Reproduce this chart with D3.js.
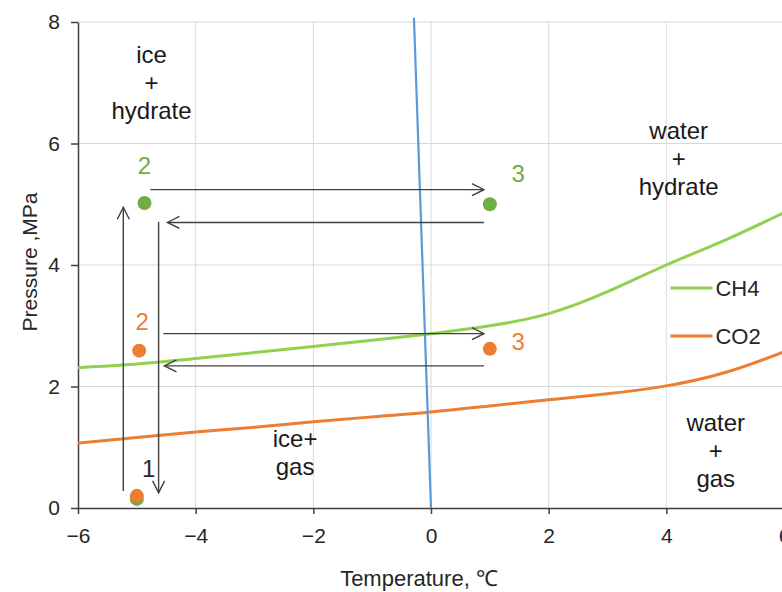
<!DOCTYPE html>
<html>
<head>
<meta charset="utf-8">
<script src="https://cdn.jsdelivr.net/npm/d3@7"></script>
<style>
	body { margin: 0; background: #fff; }
	svg { display: block; font-family: 'Liberation Sans', Arial, sans-serif; }
	.grid line { stroke: #d9d9d9; stroke-width: 1; }
	.axis path, .axis line { stroke: #404040; stroke-width: 1.5; }
	.axis text { fill: #262626; font-size: 21px; }
</style>
</head>
<body>
<div id="chart"></div>
<script>
// temperature grid for the equilibrium curves
const temps = [-6, -5, -4, -3, -2, -1, 0, 1, 2, 3, 4, 5, 6];
const ch4Pressure = [2.31, 2.37, 2.46, 2.56, 2.66, 2.76, 2.87, 3.0, 3.2, 3.56, 4.0, 4.41, 4.86];
const co2Pressure = [1.07, 1.16, 1.25, 1.33, 1.42, 1.5, 1.58, 1.68, 1.78, 1.88, 2.01, 2.23, 2.57];

// ice melting line
const iceLine = [[-0.29, 8.07], [0, 0]];

// experiment points
const ch4Points = [[-5, 0.15], [-4.87, 5.02], [1.0, 5.0]];
const co2Points = [[-5, 0.2], [-4.96, 2.59], [1.0, 2.62]];

// path arrows: [x1, y1, x2, y2]
const arrows = [
	[-5.23, 0.28, -5.23, 4.95],
	[-4.63, 4.71, -4.63, 0.25],
	[-4.77, 5.24, 0.9, 5.24],
	[0.9, 4.7, -4.48, 4.7],
	[-4.55, 2.87, 0.9, 2.87],
	[0.9, 2.34, -4.53, 2.34],
];

// step numbers: [text, x, y, series]
const stepLabels = [
	['2', -4.87, 5.49, 'CH4'],
	['3', 1.48, 5.37, 'CH4'],
	['2', -4.91, 2.93, 'CO2'],
	['3', 1.48, 2.6, 'CO2'],
	['1', -4.8, 0.51, 'none'],
];

// phase regions: [lines, x, y]
const regionLabels = [
	[['ice', '+', 'hydrate'], -4.75, 7.33],
	[['water', '+', 'hydrate'], 4.21, 6.08],
	[['water', '+', 'gas'], 4.84, 1.27],
	[['ice+', 'gas'], -2.31, 1.0],
];

const xTicks = [-6, -4, -2, 0, 2, 4, 6];
const yTicks = [0, 2, 4, 6, 8];

const colors = { CH4: '#92d050', CO2: '#ed7d31', none: '#262626' };
const dotColors = { CH4: '#70ad47', CO2: '#ed7d31' };

const width = 782;
const height = 592;
const margin = { top: 22, right: -2, bottom: 84, left: 78 };
const innerW = width - margin.left - margin.right;
const innerH = height - margin.top - margin.bottom;

const svg = d3.select('#chart').append('svg')
	.attr('width', width)
	.attr('height', height);

const plot = svg.append('g')
	.attr('transform', `translate(${margin.left},${margin.top})`);

const x = d3.scaleLinear().domain([-6, 6]).range([0, innerW]);
const y = d3.scaleLinear().domain([0, 8]).range([innerH, 0]);

// gridlines
const grid = plot.append('g').attr('class', 'grid');
grid.selectAll('.gx').data(xTicks.filter((d) => d > -6))
	.join('line')
	.attr('x1', (d) => x(d)).attr('x2', (d) => x(d))
	.attr('y1', 0).attr('y2', innerH);
grid.selectAll('.gy').data(yTicks.filter((d) => d > 0))
	.join('line')
	.attr('x1', 0).attr('x2', innerW)
	.attr('y1', (d) => y(d)).attr('y2', (d) => y(d));

// axes
plot.append('g')
	.attr('class', 'axis')
	.attr('transform', `translate(0,${innerH})`)
	.call(d3.axisBottom(x).tickValues(xTicks).tickSize(6).tickSizeOuter(0).tickPadding(14));

plot.append('g')
	.attr('class', 'axis')
	.call(d3.axisLeft(y).tickValues(yTicks).tickSize(7).tickSizeOuter(0).tickPadding(11));

// curves
const curve = d3.line()
	.x((d, i) => x(temps[i]))
	.y((d) => y(d))
	.curve(d3.curveNatural);

plot.append('path')
	.datum(co2Pressure)
	.attr('d', curve)
	.attr('fill', 'none')
	.attr('stroke', colors.CO2)
	.attr('stroke-width', 3);

plot.append('path')
	.datum(ch4Pressure)
	.attr('d', curve)
	.attr('fill', 'none')
	.attr('stroke', colors.CH4)
	.attr('stroke-width', 3);

plot.append('path')
	.datum(iceLine)
	.attr('d', d3.line().x((d) => x(d[0])).y((d) => y(d[1])))
	.attr('fill', 'none')
	.attr('stroke', '#5b9bd5')
	.attr('stroke-width', 2.2);

// arrows
svg.append('defs').append('marker')
	.attr('id', 'head')
	.attr('markerUnits', 'userSpaceOnUse')
	.attr('viewBox', '0 0 14 14')
	.attr('refX', 13).attr('refY', 7)
	.attr('markerWidth', 14).attr('markerHeight', 14)
	.attr('orient', 'auto')
	.append('path')
	.attr('d', 'M1,1 L13,7 L1,13')
	.attr('fill', 'none')
	.attr('stroke', '#404040')
	.attr('stroke-width', 1.4);

plot.selectAll('.arrow').data(arrows)
	.join('line')
	.attr('class', 'arrow')
	.attr('x1', (d) => x(d[0])).attr('y1', (d) => y(d[1]))
	.attr('x2', (d) => x(d[2])).attr('y2', (d) => y(d[3]))
	.attr('stroke', '#404040')
	.attr('stroke-width', 1.4)
	.attr('marker-end', 'url(#head)');

// points
plot.selectAll('.ptCH4').data(ch4Points)
	.join('circle')
	.attr('cx', (d) => x(d[0])).attr('cy', (d) => y(d[1]))
	.attr('r', 7)
	.attr('fill', dotColors.CH4);

plot.selectAll('.ptCO2').data(co2Points)
	.join('circle')
	.attr('cx', (d) => x(d[0])).attr('cy', (d) => y(d[1]))
	.attr('r', 7)
	.attr('fill', dotColors.CO2);

// step numbers
plot.selectAll('.step').data(stepLabels)
	.join('text')
	.attr('x', (d) => x(d[1])).attr('y', (d) => y(d[2]))
	.attr('text-anchor', 'middle')
	.attr('font-size', 24)
	.attr('fill', (d) => d[3] === 'CH4' ? dotColors.CH4 : colors[d[3]])
	.text((d) => d[0]);

// phase region labels
regionLabels.forEach(([lines, lx, ly]) => {
	const t = plot.append('text')
		.attr('text-anchor', 'middle')
		.attr('font-size', 24)
		.attr('fill', '#1a1a1a');
	lines.forEach((s, i) => {
		t.append('tspan')
			.attr('x', x(lx))
			.attr('y', y(ly) + i * 28)
			.text(s);
	});
});

// legend
const legend = plot.append('g')
	.attr('transform', `translate(${x(4.07)},${y(3.62)})`);
['CH4', 'CO2'].forEach((name, i) => {
	const row = legend.append('g').attr('transform', `translate(0,${i * 48})`);
	row.append('line')
		.attr('x1', 0).attr('x2', 42)
		.attr('stroke', colors[name])
		.attr('stroke-width', 3);
	row.append('text')
		.attr('x', 45).attr('dy', '0.35em')
		.attr('font-size', 22)
		.attr('fill', '#262626')
		.text(name);
});

// axis titles
svg.append('text')
	.attr('x', 419).attr('y', 586)
	.attr('text-anchor', 'middle')
	.attr('font-size', 22)
	.attr('fill', '#262626')
	.text('Temperature, ℃');

svg.append('text')
	.attr('transform', 'translate(37,262) rotate(-90)')
	.attr('text-anchor', 'middle')
	.attr('font-size', 21)
	.attr('fill', '#262626')
	.text('Pressure ,MPa');
</script>
</body>
</html>
